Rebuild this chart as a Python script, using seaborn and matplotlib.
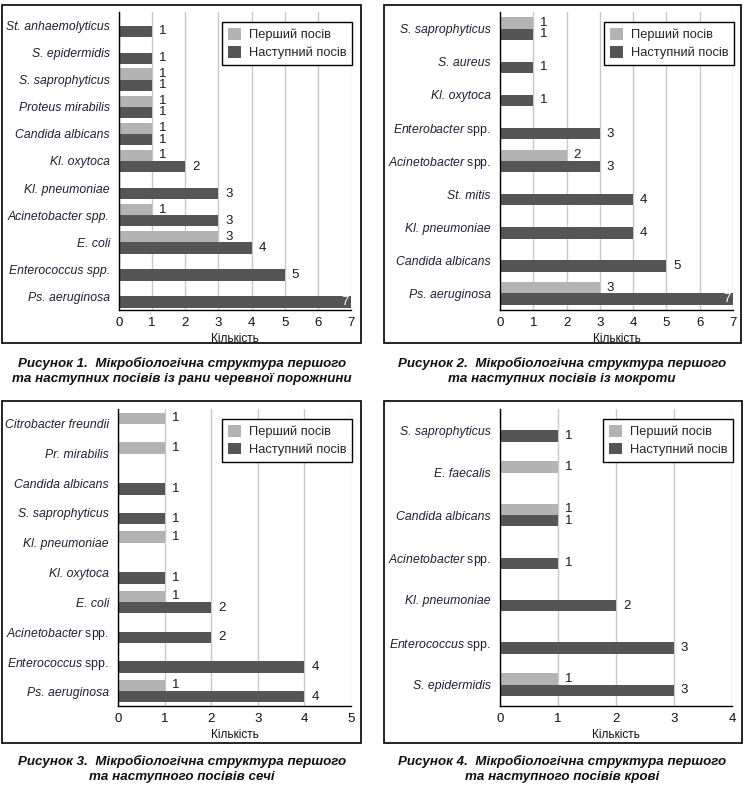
import numpy as np
import pandas as pd
import seaborn as sns
import matplotlib.pyplot as plt
from matplotlib.patches import Rectangle

# Рисунок 1 - рана черевної порожнини
cats1 = ['St. anhaemolyticus', 'S. epidermidis', 'S. saprophyticus', 'Proteus mirabilis',
         'Candida albicans', 'Kl. oxytoca', 'Kl. pneumoniae', 'Acinetobacter spp.',
         'E. coli', 'Enterococcus spp.', 'Ps. aeruginosa']
first1 = [0, 0, 1, 1, 1, 1, 0, 1, 3, 0, 0]
next1 = [1, 1, 1, 1, 1, 2, 3, 3, 4, 5, 7]

# Рисунок 2 - мокрота
cats2 = ['S. saprophyticus', 'S. aureus', 'Kl. oxytoca', 'Enterobacter spp.',
         'Acinetobacter spp.', 'St. mitis', 'Kl. pneumoniae', 'Candida albicans',
         'Ps. aeruginosa']
first2 = [1, 0, 0, 0, 2, 0, 0, 0, 3]
next2 = [1, 1, 1, 3, 3, 4, 4, 5, 7]

# Рисунок 3 - сеча
cats3 = ['Citrobacter freundii', 'Pr. mirabilis', 'Candida albicans', 'S. saprophyticus',
         'Kl. pneumoniae', 'Kl. oxytoca', 'E. coli', 'Acinetobacter spp.',
         'Enterococcus spp.', 'Ps. aeruginosa']
first3 = [1, 1, 0, 0, 1, 0, 1, 0, 0, 1]
next3 = [0, 0, 1, 1, 0, 1, 2, 2, 4, 4]

# Рисунок 4 - кров
cats4 = ['S. saprophyticus', 'E. faecalis', 'Candida albicans', 'Acinetobacter spp.',
         'Kl. pneumoniae', 'Enterococcus spp.', 'S. epidermidis']
first4 = [0, 1, 1, 0, 0, 0, 1]
next4 = [1, 0, 1, 1, 2, 3, 3]

series = ['Перший посів', 'Наступний посів']
colors = ['#b3b3b3', '#555555']

captions = [
    'Рисунок 1.  Мікробіологічна структура першого\nта наступних посівів із рани черевної порожнини',
    'Рисунок 2.  Мікробіологічна структура першого\nта наступних посівів із мокроти',
    'Рисунок 3.  Мікробіологічна структура першого\nта наступного посівів сечі',
    'Рисунок 4.  Мікробіологічна структура першого\nта наступного посівів крові',
]

sns.set_style('white')
plt.rcParams['font.family'] = ['Liberation Sans', 'DejaVu Sans']
plt.rcParams['mathtext.fontset'] = 'custom'
plt.rcParams['mathtext.it'] = 'Liberation Sans:italic'
plt.rcParams['mathtext.rm'] = 'Liberation Sans'

W, H = 745, 789
fig = plt.figure(figsize=(W / 100, H / 100), dpi=100)
fig.patch.set_facecolor('white')


def px_axes(l, t, r, b):
    return fig.add_axes([l / W, 1 - b / H, (r - l) / W, (b - t) / H])


def draw_panel(ax, cats, first, nxt, xmax, upright_spp):
    n = len(cats)
    df = pd.DataFrame({
        'name': cats * 2,
        'series': [series[0]] * n + [series[1]] * n,
        'value': first + nxt,
    })
    band = ax.bbox.height / n
    sns.barplot(data=df, y='name', x='value', hue='series', order=cats,
                hue_order=series, palette=colors, saturation=1, orient='h',
                width=2 * 11.3 / band, linewidth=0, errorbar=None, ax=ax)

    ax.set_xlim(0, xmax)
    ax.set_ylim(n - 0.5, -0.5)
    ax.set_xticks(range(xmax + 1))
    ax.grid(axis='x', color='#c8c8c8', lw=1)
    ax.set_axisbelow(True)
    for s in ['top', 'right']:
        ax.spines[s].set_visible(False)
    for s in ['left', 'bottom']:
        ax.spines[s].set_color('black')
        ax.spines[s].set_linewidth(1)

    # ticks on the category borders
    ax.set_yticks(np.arange(-0.5, n, 1), minor=True)
    ax.tick_params(axis='y', which='major', length=0, pad=6.5)
    ax.tick_params(axis='y', which='minor', length=4.5, width=1, color='black', direction='out')
    ax.tick_params(axis='x', length=3, width=1, color='black', direction='out',
                   labelsize=9.5, pad=2, labelcolor='#111111')

    labels = []
    for name in cats:
        if upright_spp and name.endswith(' spp.'):
            labels.append(r'$\mathit{' + name[:-5] + '}$ spp.')
        else:
            labels.append(name)
    ax.set_yticks(range(n))
    ax.set_yticklabels(labels, fontsize=8.8, color='#1e1e36')
    for lab, name in zip(ax.get_yticklabels(), cats):
        if not (upright_spp and name.endswith(' spp.')):
            lab.set_fontstyle('italic')

    ax.set_ylabel('')
    ax.set_xlabel('Кількість', fontsize=8.5, labelpad=3, color='#111111')

    # value labels
    for cont in ax.containers:
        for p in cont:
            v = p.get_width()
            if v == 0:
                continue
            yc = p.get_y() + p.get_height() / 2
            if v >= xmax:
                ax.annotate(f'{v:g}', (v, yc), xytext=(-2, 0), textcoords='offset points',
                            ha='right', va='center', fontsize=9.5, color='white')
            else:
                ax.annotate(f'{v:g}', (v, yc), xytext=(5, 0), textcoords='offset points',
                            ha='left', va='center', fontsize=9.5, color='#1a1a1a')

    ax.legend(loc='upper right', bbox_to_anchor=(1.005, 0.965), frameon=True,
              fancybox=False, edgecolor='black', framealpha=1, fontsize=9.3,
              handlelength=1.0, handleheight=1.0, handletextpad=0.6,
              borderpad=0.45, labelspacing=0.35, borderaxespad=0)
    ax.get_legend().get_frame().set_linewidth(1)


ax1 = px_axes(119, 12, 351, 310)
draw_panel(ax1, cats1, first1, next1, 7, False)
ax2 = px_axes(500, 12, 733, 310)
draw_panel(ax2, cats2, first2, next2, 7, True)
ax3 = px_axes(118, 409, 351, 706)
draw_panel(ax3, cats3, first3, next3, 5, True)
ax4 = px_axes(500, 409, 732, 706)
draw_panel(ax4, cats4, first4, next4, 4, True)

# panel frames
for l, t, r, b in [(2, 5, 361, 343), (384, 5, 741, 343),
                   (2, 401, 361, 743), (384, 401, 742, 743)]:
    fig.add_artist(Rectangle((l / W, 1 - b / H), (r - l) / W, (b - t) / H,
                             transform=fig.transFigure, fill=False,
                             edgecolor='black', lw=1.2))

# captions
for (cx, cy), txt in zip([(182, 371), (562, 371), (182, 769), (562, 769)], captions):
    fig.text(cx / W, 1 - cy / H, txt, ha='center', va='center', fontsize=9.6,
             fontweight='bold', fontstyle='italic', linespacing=1.25,
             family=['Liberation Sans', 'DejaVu Sans'], color='#111111')

fig.savefig('out.png', dpi=100, facecolor='white')
